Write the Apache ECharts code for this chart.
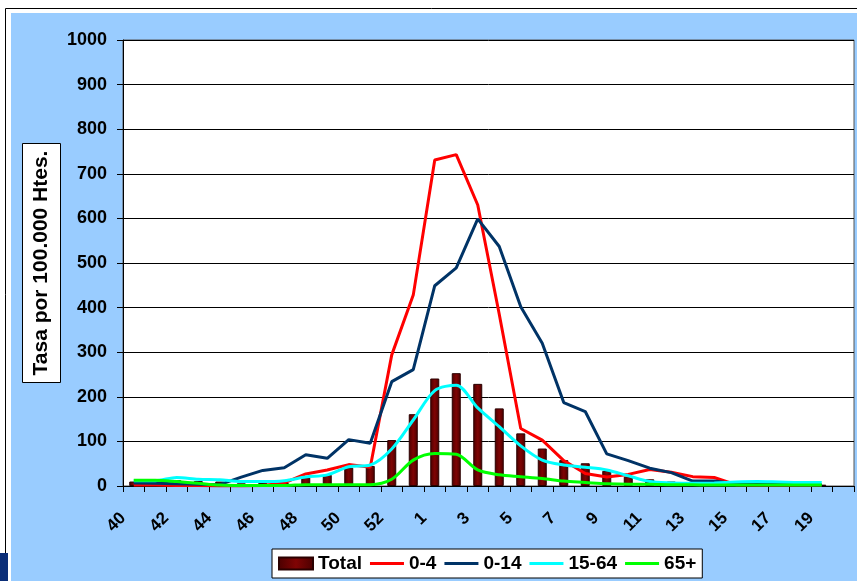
<!DOCTYPE html>
<html>
<head>
<meta charset="utf-8">
<style>
  html, body { margin: 0; padding: 0; background: #fff; }
  #chart { width: 857px; height: 581px; }
</style>
<script src="https://cdn.jsdelivr.net/npm/echarts@6/dist/echarts.min.js"></script>
</head>
<body>
<div id="chart"></div>
<script>
// Categories: epidemiological weeks 40..53, then 1..20
const weeks = ['40','41','42','43','44','45','46','47','48','49','50','51','52','53',
  '1','2','3','4','5','6','7','8','9','10','11','12','13','14','15','16','17','18','19','20'];

// Rates per 100.000 inhabitants
const total    = [10, 8, 13, 11, 10, 6, 7, 7, 20, 25, 41, 45, 103, 161, 241, 253, 229, 174, 118, 84, 58, 51, 34, 21, 15, 10, 9, 5, 4, 4, 3, 3, 3];
const age0_4   = [2, 2, 1, 1, 0, 0, 1, 7, 27, 36, 48, 42, 294, 428, 731, 743, 630, 385, 129, 103, 57, 28, 20, 26, 37, 31, 21, 19, 3, 2, 2, 2, 2];
const age0_14  = [7, 6, 5, 4, 3, 20, 35, 41, 70, 62, 104, 96, 234, 261, 449, 489, 599, 537, 402, 320, 187, 167, 72, 57, 40, 30, 11, 11, 5, 4, 4, 3, 3];
const age15_64 = [12, 12, 19, 15, 14, 10, 10, 12, 20, 25, 43, 47, 83, 148, 214, 226, 175, 133, 90, 58, 47, 42, 36, 23, 10, 7, 6, 7, 9, 10, 9, 8, 8];
const age65    = [13, 13, 10, 6, 2, 1, 1, 1, 3, 3, 3, 3, 15, 58, 73, 71, 36, 25, 21, 17, 11, 8, 5, 4, 4, 3, 3, 2, 2, 2, 2, 2, 2];

const yTicks = { min: 0, max: 1000, interval: 100 };
const FONT = '"Liberation Sans", Arial, sans-serif';
const LINE_ICON = 'path://M0,0H34V3H0Z';

const barColor = new echarts.graphic.LinearGradient(0, 0, 1, 0, [
  { offset: 0, color: '#4a0000' },
  { offset: 0.5, color: '#800404' },
  { offset: 1, color: '#4a0000' }
]);

const chart = echarts.init(document.getElementById('chart'), null, { renderer: 'canvas' });

chart.setOption({
  backgroundColor: '#99CCFF',
  animation: false,
  textStyle: { fontFamily: FONT },
  graphic: [
    { type: 'rect', z: 100, shape: { x: 0, y: 0, width: 857, height: 13 }, style: { fill: '#fff' } },
    { type: 'rect', z: 100, shape: { x: 0, y: 0, width: 11, height: 581 }, style: { fill: '#fff' } },
    { type: 'line', z: 101, shape: { x1: 5.5, y1: 8.5, x2: 857, y2: 8.5 }, style: { stroke: '#000', lineWidth: 1 } },
    { type: 'line', z: 101, shape: { x1: 5.5, y1: 8.5, x2: 5.5, y2: 581 }, style: { stroke: '#000', lineWidth: 1 } },
    { type: 'rect', z: 102, shape: { x: 0, y: 553, width: 8, height: 28 }, style: { fill: '#0b2e78' } },
    { type: 'rect', z: 100, shape: { x: 22.5, y: 143.5, width: 38, height: 239 }, style: { fill: '#fff', stroke: '#000', lineWidth: 1 } },
    { type: 'text', z: 101, x: 41.5, y: 263, rotation: Math.PI / 2,
      style: { text: 'Tasa por 100.000 Htes.', font: 'bold 21px ' + FONT, fill: '#000',
               textAlign: 'center', textVerticalAlign: 'middle' } }
  ],
  legend: {
    left: 272, top: 549,
    padding: [5, 6],
    itemWidth: 34, itemHeight: 12, itemGap: 8,
    backgroundColor: '#fff',
    borderColor: '#000', borderWidth: 1,
    textStyle: { fontFamily: FONT, fontWeight: 'bold', fontSize: 19, color: '#000' },
    data: [
      { name: 'Total', icon: 'rect' },
      { name: '0-4', icon: LINE_ICON },
      { name: '0-14', icon: LINE_ICON },
      { name: '15-64', icon: LINE_ICON },
      { name: '65+', icon: LINE_ICON }
    ]
  },
  grid: {
    left: 123, top: 40, width: 731, height: 446,
    show: true, backgroundColor: '#fff', borderColor: '#555', borderWidth: 1
  },
  xAxis: {
    type: 'category',
    data: weeks,
    boundaryGap: true,
    axisLine: { lineStyle: { color: '#000', width: 1 } },
    axisTick: { show: true, interval: 0, length: 6, lineStyle: { color: '#000' } },
    axisLabel: {
      interval: 1, rotate: 45, margin: 19, padding: [0, 15, 0, 0],
      fontFamily: FONT, fontWeight: 'bold', fontSize: 17, color: '#000'
    },
    splitLine: { show: false }
  },
  yAxis: {
    type: 'value',
    min: yTicks.min, max: yTicks.max, interval: yTicks.interval,
    axisLine: { show: true, lineStyle: { color: '#000', width: 1 } },
    axisTick: { show: true, length: 6, lineStyle: { color: '#000' } },
    axisLabel: { margin: 16, fontFamily: FONT, fontWeight: 'bold', fontSize: 18, color: '#000',
                 formatter: function (v) { return String(v); } },
    splitLine: { show: true, lineStyle: { color: '#000', width: 1 } }
  },
  series: [
    { name: 'Total', type: 'bar', data: total, barWidth: 9,
      itemStyle: { color: barColor, borderColor: '#2a0000', borderWidth: 1 } },
    { name: '0-4', type: 'line', data: age0_4, symbol: 'none',
      lineStyle: { color: '#ff0000', width: 3 }, itemStyle: { color: '#ff0000' } },
    { name: '0-14', type: 'line', data: age0_14, symbol: 'none',
      lineStyle: { color: '#003366', width: 3 }, itemStyle: { color: '#003366' } },
    { name: '15-64', type: 'line', data: age15_64, symbol: 'none', smooth: 0.3,
      lineStyle: { color: '#00ffff', width: 3 }, itemStyle: { color: '#00ffff' } },
    { name: '65+', type: 'line', data: age65, symbol: 'none', smooth: 0.3,
      lineStyle: { color: '#00ff00', width: 3 }, itemStyle: { color: '#00ff00' } }
  ]
});
</script>
</body>
</html>
